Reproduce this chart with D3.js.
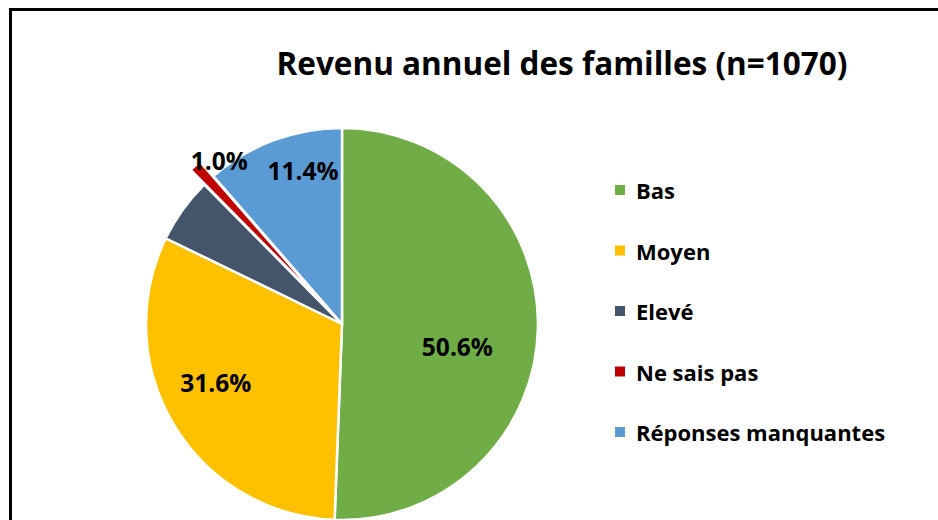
<!DOCTYPE html>
<html><head><meta charset="utf-8">
<script src="https://cdn.jsdelivr.net/npm/d3@7"></script>
<style>body{margin:0;background:#fff}svg{display:block}text{font-family:"Open Sans",Lato,sans-serif;font-weight:bold;fill:#000}</style>
</head><body>
<svg id="chart" width="938" height="520"></svg>
<script>
const title = "Revenu annuel des familles (n=1070)";
const categories = ["Bas", "Moyen", "Elevé", "Ne sais pas", "Réponses manquantes"];
const values = [50.6, 31.6, 5.4, 1.0, 11.4];
const showLabel = [true, true, false, true, true];
const colors = ["#70AD47", "#FFC000", "#44546A", "#C00000", "#5B9BD5"];
const exploded = [false, false, false, true, false];

const svg = d3.select("#chart");
const W = 938, H = 520;
svg.append("rect").attr("x", 10.5).attr("y", 9.5).attr("width", W + 20).attr("height", H + 20)
  .attr("fill", "#fff").attr("stroke", "#000").attr("stroke-width", 3);

svg.append("text").attr("x", 562).attr("y", 75).attr("text-anchor", "middle")
  .style("font-size", "31.5px").text(title);

const cx = 342, cy = 324, R = 196;
const g = svg.append("g").attr("transform", `translate(${cx},${cy})`);
const pie = d3.pie().sort(null).value(d => d.v).startAngle(0).endAngle(2 * Math.PI);
const data = pie(categories.map((c, i) => ({ c, v: values[i], i })));
const arc = d3.arc().innerRadius(0).outerRadius(R);
const explodeDist = 20;

g.selectAll("path").data(data).join("path")
  .attr("d", arc)
  .attr("fill", d => colors[d.data.i])
  .attr("stroke", "#fff").attr("stroke-width", 2.5).attr("stroke-linejoin", "round")
  .attr("transform", d => {
    if (!exploded[d.data.i]) return null;
    const a = (d.startAngle + d.endAngle) / 2;
    return `translate(${Math.sin(a) * explodeDist},${-Math.cos(a) * explodeDist})`;
  });

// label placement: fraction of radius and angular nudge (degrees)
const labRad = [0.6, 0.71, 0.7, 1.045, 0.81];
const labRot = [10, 6, 0, 6, 6.3];
g.selectAll("text.lab").data(data.filter(d => showLabel[d.data.i])).join("text")
  .attr("class", "lab")
  .attr("text-anchor", "middle").attr("dominant-baseline", "central")
  .style("font-size", "24.5px")
  .attr("x", d => { const a = (d.startAngle + d.endAngle) / 2 + labRot[d.data.i] * Math.PI / 180; return Math.sin(a) * R * labRad[d.data.i]; })
  .attr("y", d => { const a = (d.startAngle + d.endAngle) / 2 + labRot[d.data.i] * Math.PI / 180; return -Math.cos(a) * R * labRad[d.data.i]; })
  .text(d => d3.format(".1f")(d.data.v) + "%");

const leg = svg.append("g").attr("transform", "translate(615,190)");
const row = leg.selectAll("g").data(categories).join("g")
  .attr("transform", (d, i) => `translate(0,${i * 60.5})`);
row.append("rect").attr("x", 0).attr("y", -5).attr("width", 10).attr("height", 10)
  .attr("fill", (d, i) => colors[i]);
row.append("text").attr("x", 21).attr("y", 0).attr("dominant-baseline", "central")
  .style("font-size", "22px").text(d => d);
</script>
</body></html>
